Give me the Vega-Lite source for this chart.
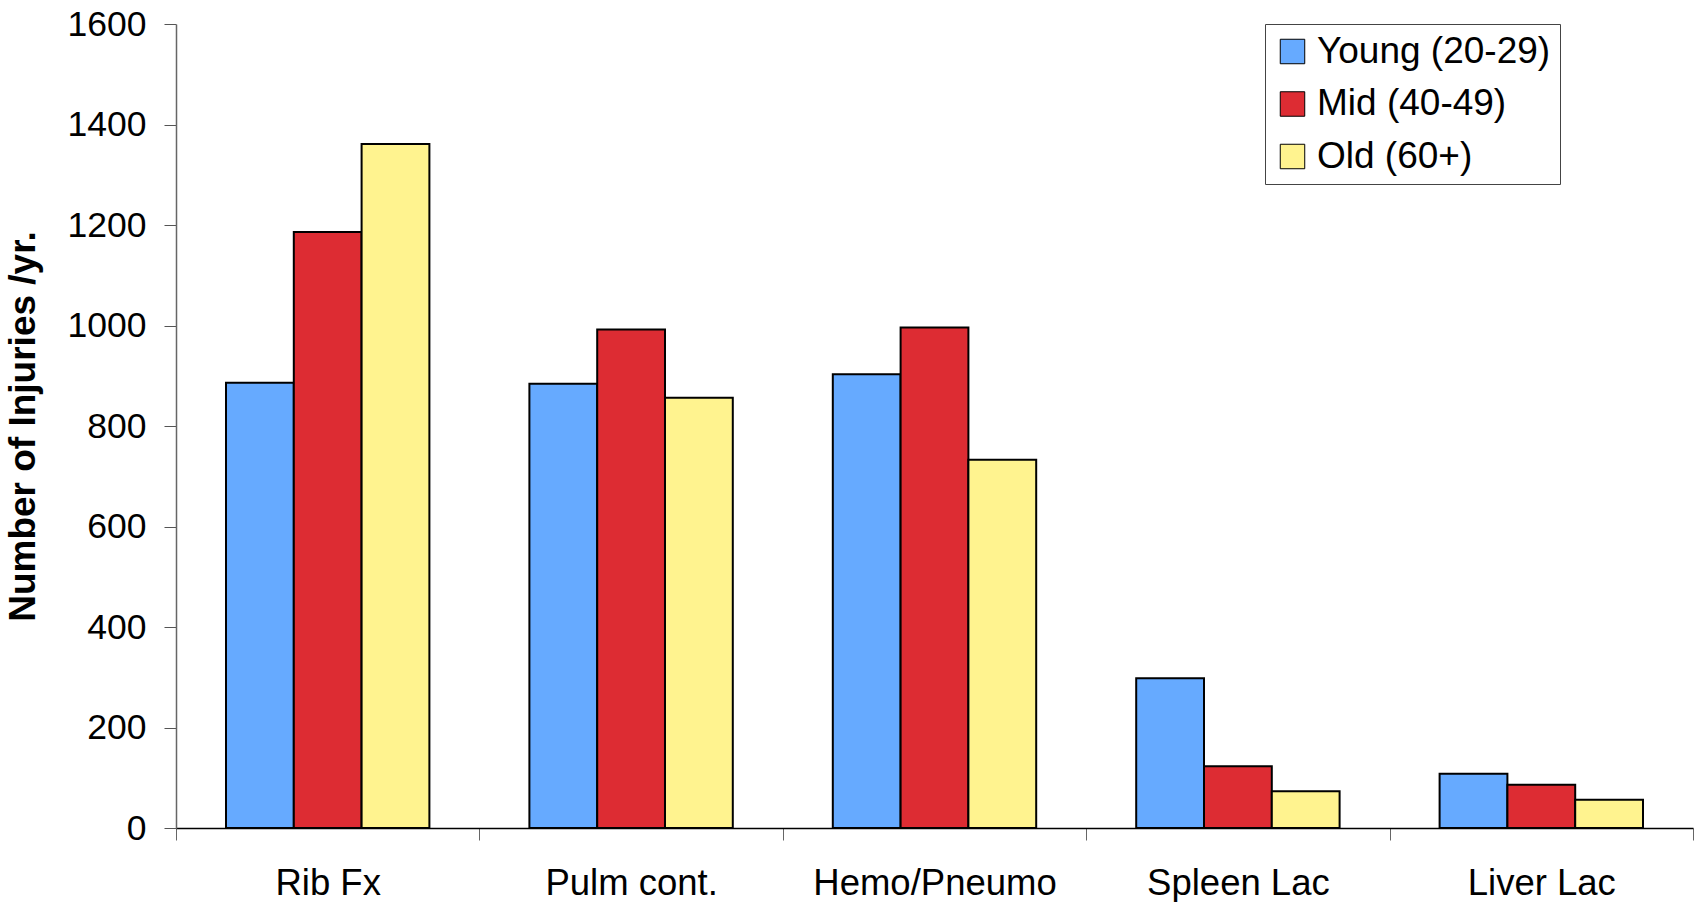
{
  "$schema": "https://vega.github.io/schema/vega-lite/v6.json",
  "autosize": {"type": "none"},
  "width": 1517,
  "height": 804,
  "padding": {"left": 176, "top": 24, "right": 7, "bottom": 74},
  "background": "white",
  "config": {
    "view": {"stroke": null},
    "font": "Liberation Sans"
  },
  "data": {
    "values": [
      {"injury": "Rib Fx", "group": "Young (20-29)", "value": 886},
      {"injury": "Rib Fx", "group": "Mid (40-49)", "value": 1186},
      {"injury": "Rib Fx", "group": "Old (60+)", "value": 1361},
      {"injury": "Pulm cont.", "group": "Young (20-29)", "value": 884},
      {"injury": "Pulm cont.", "group": "Mid (40-49)", "value": 992},
      {"injury": "Pulm cont.", "group": "Old (60+)", "value": 856},
      {"injury": "Hemo/Pneumo", "group": "Young (20-29)", "value": 903},
      {"injury": "Hemo/Pneumo", "group": "Mid (40-49)", "value": 996},
      {"injury": "Hemo/Pneumo", "group": "Old (60+)", "value": 733},
      {"injury": "Spleen Lac", "group": "Young (20-29)", "value": 298},
      {"injury": "Spleen Lac", "group": "Mid (40-49)", "value": 123},
      {"injury": "Spleen Lac", "group": "Old (60+)", "value": 73},
      {"injury": "Liver Lac", "group": "Young (20-29)", "value": 108},
      {"injury": "Liver Lac", "group": "Mid (40-49)", "value": 86},
      {"injury": "Liver Lac", "group": "Old (60+)", "value": 56}
    ]
  },
  "mark": {"type": "bar", "stroke": "black", "strokeWidth": 2},
  "encoding": {
    "x": {
      "field": "injury",
      "type": "nominal",
      "sort": ["Rib Fx", "Pulm cont.", "Hemo/Pneumo", "Spleen Lac", "Liver Lac"],
      "scale": {"paddingInner": 0, "paddingOuter": 0},
      "axis": {
        "title": null,
        "labelAngle": 0,
        "labelFontSize": 36.5,
        "labelColor": "black",
        "labelPadding": 25,
        "labelLimit": 600,
        "domainColor": "black",
        "domainWidth": 1.5,
        "tickBand": "extent",
        "tickColor": "#666",
        "tickWidth": 1,
        "tickSize": 12,
        "grid": false
      }
    },
    "xOffset": {
      "field": "group",
      "type": "nominal",
      "sort": ["Young (20-29)", "Mid (40-49)", "Old (60+)"],
      "scale": {"paddingInner": 0, "paddingOuter": 0.7375}
    },
    "y": {
      "field": "value",
      "type": "quantitative",
      "scale": {"domain": [0, 1600], "nice": false},
      "axis": {
        "title": "Number of Injuries /yr.",
        "titleFontSize": 37,
        "titleFontWeight": "bold",
        "titleColor": "black",
        "titlePadding": 25,
        "values": [0, 200, 400, 600, 800, 1000, 1200, 1400, 1600],
        "format": "d",
        "labelFontSize": 35.5,
        "labelColor": "black",
        "labelPadding": 18,
        "tickSize": 12,
        "tickColor": "#555",
        "tickWidth": 1,
        "domainColor": "#666",
        "domainWidth": 1.5,
        "grid": false
      }
    },
    "color": {
      "field": "group",
      "type": "nominal",
      "sort": ["Young (20-29)", "Mid (40-49)", "Old (60+)"],
      "scale": {
        "domain": ["Young (20-29)", "Mid (40-49)", "Old (60+)"],
        "range": ["#66AAFF", "#DD2C33", "#FFF38F"]
      },
      "legend": {
        "title": null,
        "orient": "none",
        "legendX": 1089,
        "legendY": 0,
        "fillColor": "white",
        "strokeColor": "#444",
        "padding": 9,
        "rowPadding": 14.5,
        "symbolType": "square",
        "symbolSize": 600,
        "symbolStrokeColor": "black",
        "symbolStrokeWidth": 1,
        "labelFontSize": 37,
        "labelColor": "black",
        "labelOffset": 6,
        "labelLimit": 400
      }
    }
  }
}
